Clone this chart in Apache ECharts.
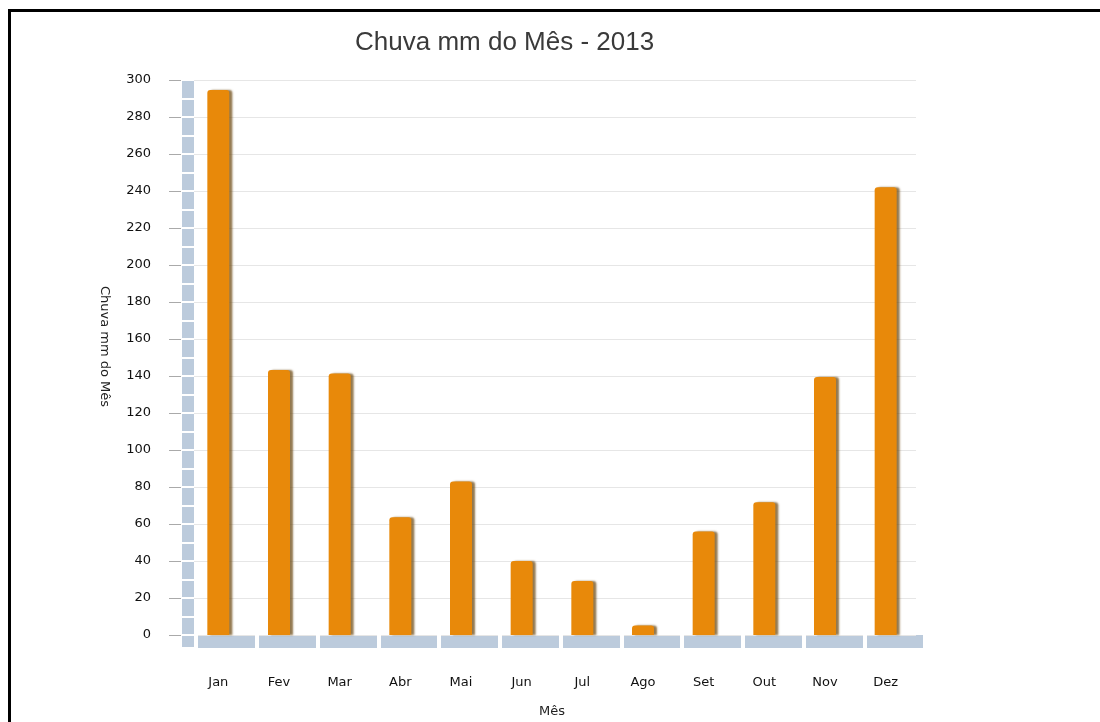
<!DOCTYPE html>
<html>
<head>
<meta charset="utf-8">
<script src="https://cdn.jsdelivr.net/npm/echarts@6/dist/echarts.min.js"></script>
<style>
    html, body { margin: 0; padding: 0; background: #fff; }
    #chart { width: 1100px; height: 722px; }
    #frame {
        position: absolute; left: 8px; top: 9px; width: 1100px; height: 720px;
        border-top: 3px solid #000; border-left: 3px solid #000; pointer-events: none;
    }
</style>
</head>
<body>
<div id="chart"></div>
<div id="frame"></div>
<script>
// dados do gráfico
const meses = ["Jan", "Fev", "Mar", "Abr", "Mai", "Jun", "Jul", "Ago", "Set", "Out", "Nov", "Dez"];
const chuvaMm = [294.6, 143.2, 141.4, 63.6, 83, 40, 29.2, 5.2, 56, 71.8, 139.4, 242];
const yTicks = { min: 0, max: 300, interval: 20 };

const bandColor = "#bccbdc"; // faixa azul dos eixos
const fonte = "DejaVu Sans";

let option = {
    animation: false,
    title: {
        text: "Chuva mm do Mês - 2013",
        left: 350,
        top: 25,
        textStyle: { fontFamily: "Liberation Sans", fontSize: 26, fontWeight: "normal", color: "#3a3a3a" },
    },
    grid: [
        // área principal das barras
        { left: 188, right: 184, top: 80, bottom: 87, outerBoundsMode: "none" },
        // faixa vertical decorativa à esquerda
        { left: 182, width: 12, top: 80, height: 568, show: true, backgroundColor: bandColor, borderWidth: 0, outerBoundsMode: "none" },
        // faixa horizontal decorativa embaixo
        { left: 196, right: 175, top: 635, height: 13, show: true, backgroundColor: bandColor, borderWidth: 0, outerBoundsMode: "none" },
    ],
    xAxis: [
        {
            type: "category",
            gridIndex: 0,
            data: meses,
            name: "Mês",
            nameLocation: "middle",
            nameGap: 70,
            nameTextStyle: { fontFamily: fonte, fontSize: 13, color: "#222" },
            axisLine: { show: false },
            axisTick: { show: false },
            axisLabel: { margin: 41, fontFamily: fonte, fontSize: 13, color: "#111" },
        },
        { type: "value", gridIndex: 1, show: false },
        {
            type: "category",
            gridIndex: 2,
            data: meses,
            axisLine: { show: false },
            axisTick: { show: false },
            axisLabel: { show: false },
            splitLine: { show: true, lineStyle: { color: "#fff", width: 4 } },
        },
    ],
    yAxis: [
        {
            type: "value",
            gridIndex: 0,
            min: yTicks.min,
            max: yTicks.max,
            interval: yTicks.interval,
            offset: 7,
            name: "Chuva mm do Mês",
            nameLocation: "middle",
            nameRotate: -90,
            nameGap: 70,
            nameTextStyle: { fontFamily: fonte, fontSize: 13, color: "#222", padding: [0, 22, 0, 0] },
            axisLine: { show: false },
            axisTick: { show: true, length: 12, lineStyle: { color: "#aaa" } },
            axisLabel: { margin: 30, fontFamily: fonte, fontSize: 13, color: "#111" },
            splitLine: { show: true, lineStyle: { color: "#e6e6e6" } },
        },
        {
            type: "value",
            gridIndex: 1,
            min: 0,
            max: 307,
            interval: 10,
            inverse: true,
            axisLine: { show: false },
            axisTick: { show: false },
            axisLabel: { show: false },
            splitLine: { show: true, lineStyle: { color: "#fff", width: 2 } },
        },
        { type: "value", gridIndex: 2, show: false },
    ],
    series: [
        {
            type: "bar",
            xAxisIndex: 0,
            yAxisIndex: 0,
            data: chuvaMm,
            barWidth: 22,
            itemStyle: {
                color: "#e8890a",
                borderRadius: [3, 3, 0, 0],
                shadowColor: "rgba(110, 75, 20, 0.75)",
                shadowOffsetX: 3,
                shadowBlur: 2,
            },
        },
    ],
};

const chartObj = echarts.init(document.getElementById("chart"));
chartObj.setOption(option);
</script>
</body>
</html>
